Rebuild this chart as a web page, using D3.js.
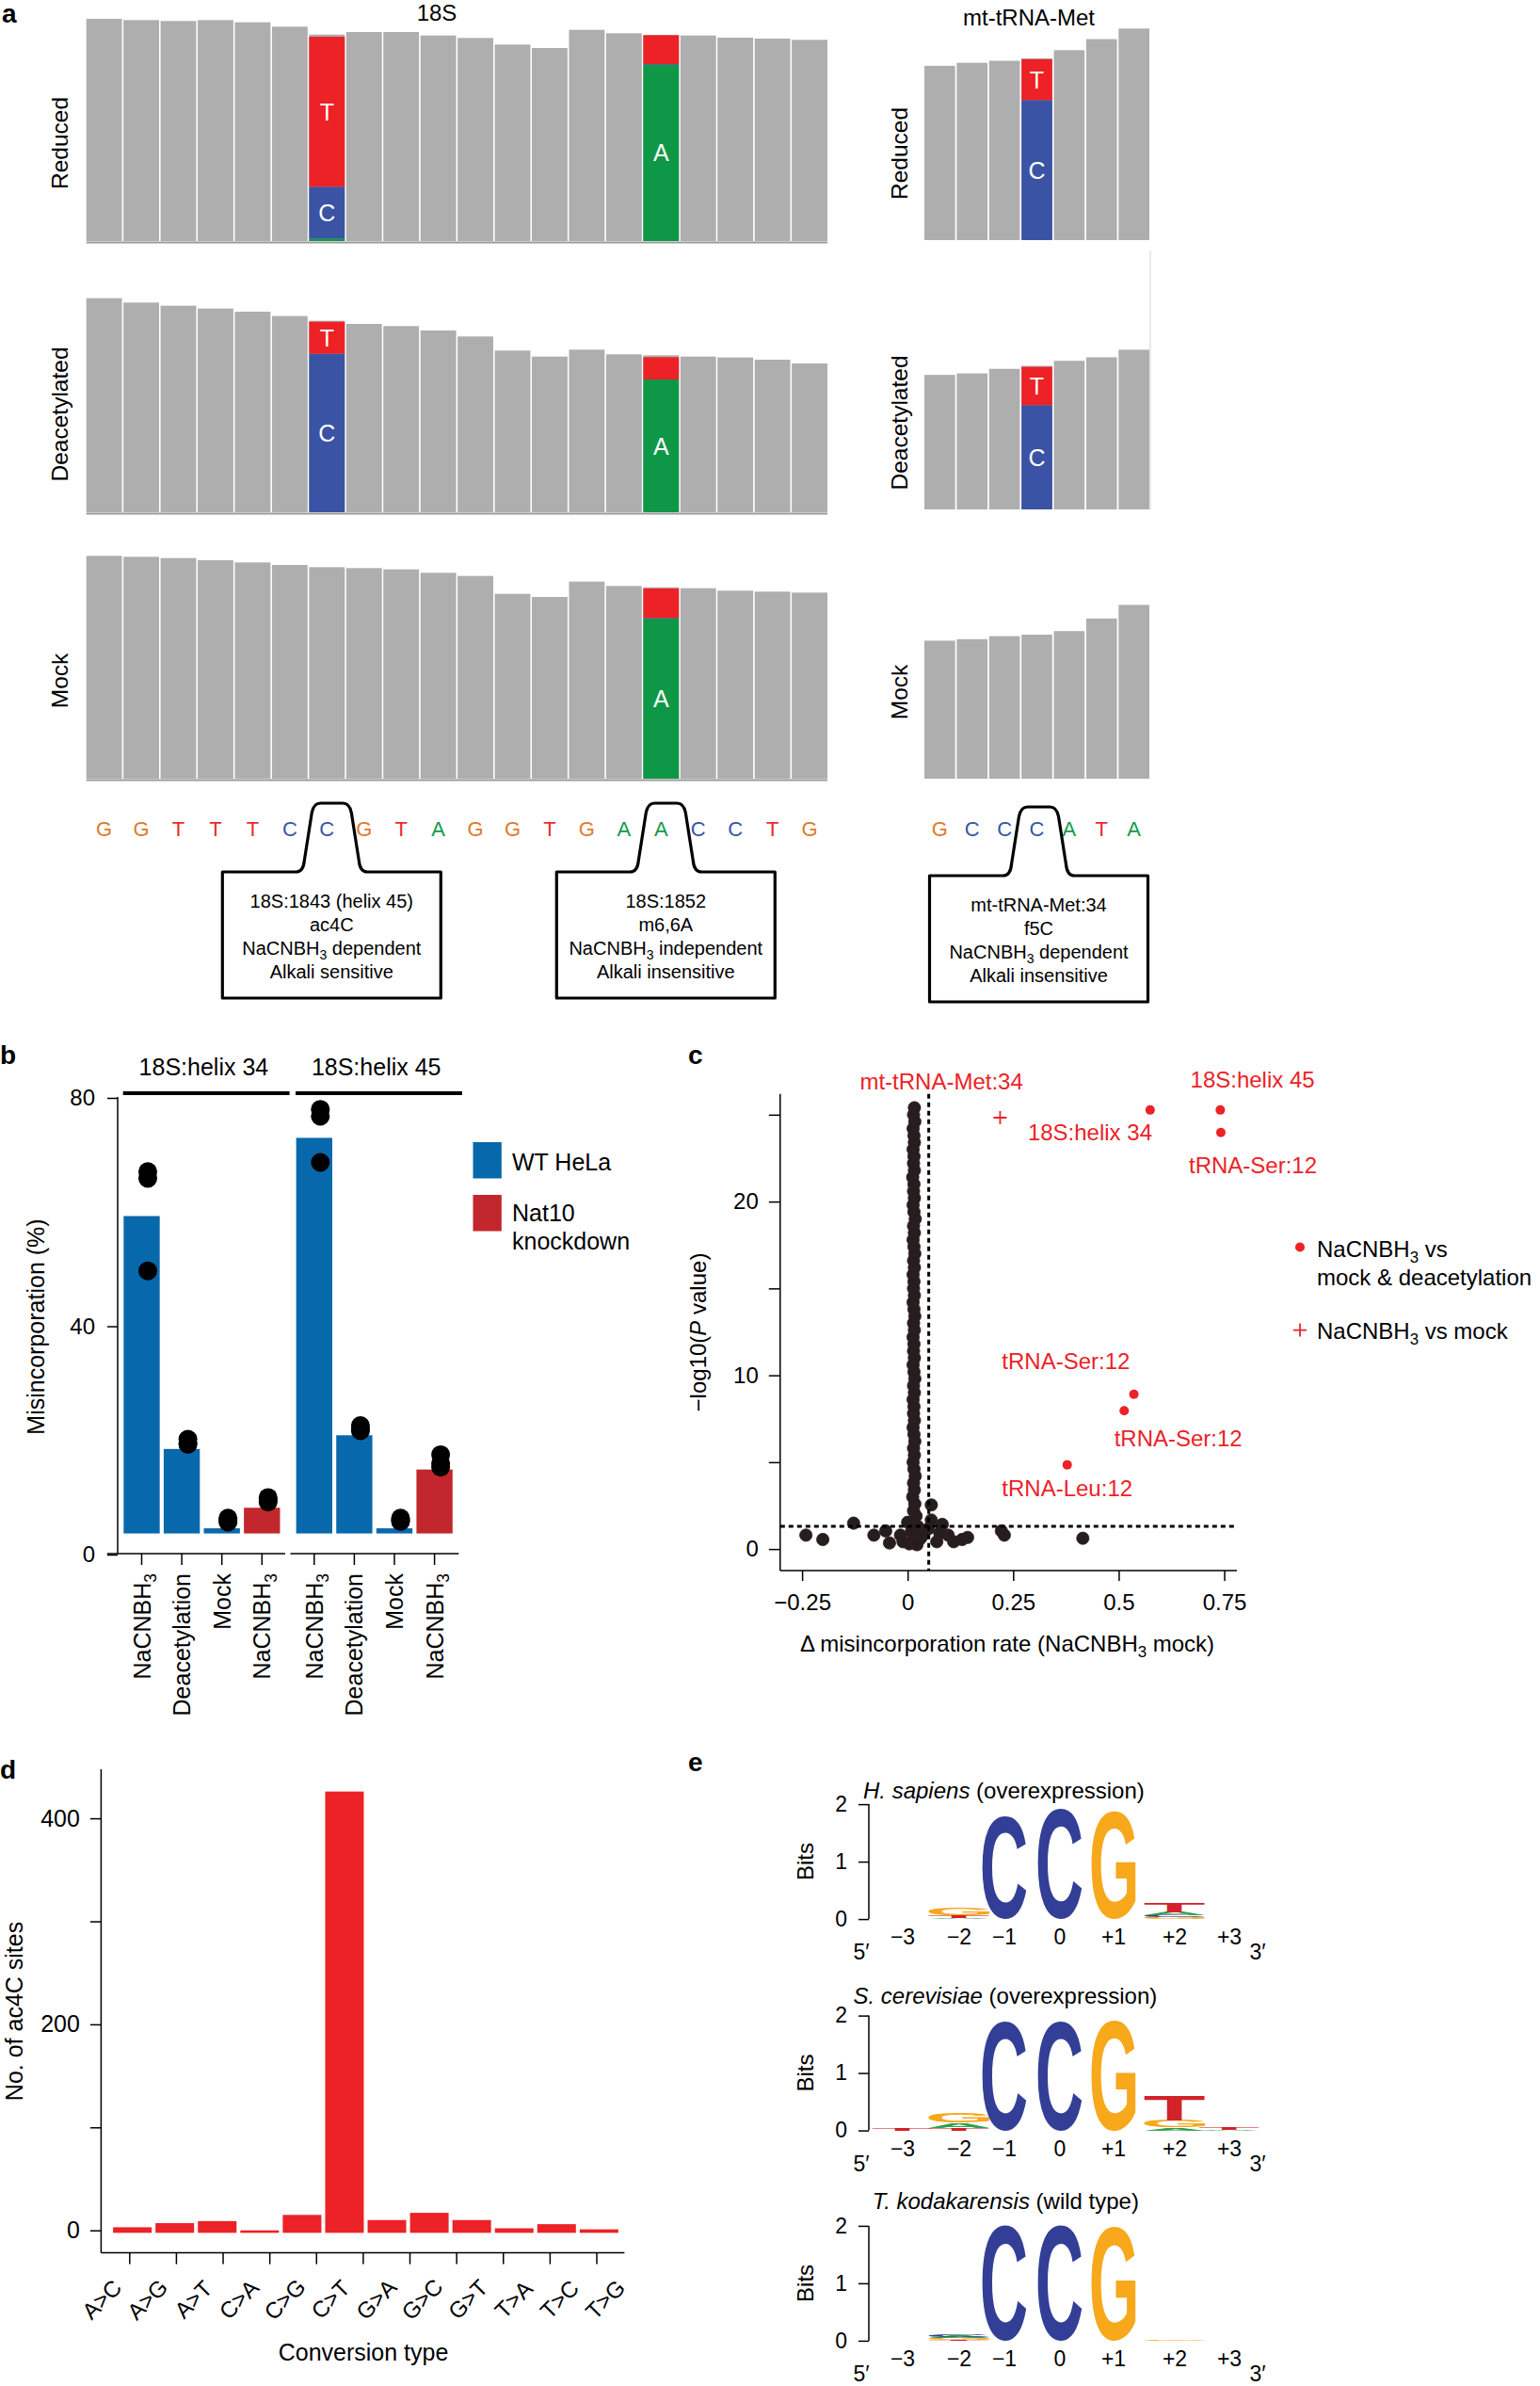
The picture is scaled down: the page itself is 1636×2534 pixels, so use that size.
<!DOCTYPE html>
<html>
<head>
<meta charset="utf-8">
<script src="https://cdn.jsdelivr.net/npm/d3@7"></script>
<style>
body { margin: 0; background: #fff; }
svg { display: block; font-family: "Liberation Sans", Arial, Helvetica, sans-serif; }
</style>
</head>
<body>
<svg id="fig" width="1636" height="2534"></svg>
<script>
// ---------------- data ----------------
// a: coverage tracks (read depth, arbitrary units) and reference sequence
var seq18S = ["G","G","T","T","T","C","C","G","T","A","G","G","T","G","A","A","C","C","T","G"];
var seqMt = ["G","C","C","C","A","T","A"];
var trackNames = ["Reduced", "Deacetylated", "Mock"];
var cov18S_reduced = [708,704,701,704,697,683,658,666,666,655,647,626,615,673,662,656,655,648,645,641];
var cov18S_deacetylated = [682,668,658,649,639,625,610,600,593,579,560,515,496,518,503,500,496,493,486,474];
var cov18S_mock = [710,707,703,696,689,681,674,671,667,656,646,589,579,628,614,610,607,599,596,593];
var covMt_reduced = [346,352,356,361,377,399,420];
var covMt_deacetylated = [267,270,279,285,295,302,317];
var covMt_mock = [274,277,283,286,293,318,345];
// base calls at mismatch positions (track index, position, reads per base)
var mismatch18S = [
  {track:0, pos:6, A:8, C:165, G:0, T:478},
  {track:0, pos:15, A:562, C:2, G:0, T:92},
  {track:1, pos:6, A:0, C:505, G:0, T:102},
  {track:1, pos:15, A:423, C:0, G:0, T:71},
  {track:2, pos:15, A:510, C:2, G:0, T:94}
];
var mismatchMt = [
  {track:0, pos:3, A:0, C:278, G:0, T:81},
  {track:1, pos:3, A:0, C:207, G:0, T:76}
];
var calloutSites = [{seq:"18S", pos:6}, {seq:"18S", pos:15}, {seq:"mt", pos:3}];
var calloutText = [
  ["18S:1843 (helix 45)", "ac4C", "NaCNBH3 dependent", "Alkali sensitive"],
  ["18S:1852", "m6,6A", "NaCNBH3 independent", "Alkali insensitive"],
  ["mt-tRNA-Met:34", "f5C", "NaCNBH3 dependent", "Alkali insensitive"]
];

// b: misincorporation (%)
var bGroups = ["18S:helix 34", "18S:helix 45"];
var bTreatments = ["NaCNBH3", "Deacetylation", "Mock", "NaCNBH3"];
var bCells = ["WT HeLa", "WT HeLa", "WT HeLa", "Nat10 knockdown"];
var bMeans = [[59.3, 18.5, 4.6, 8.2], [73.0, 20.9, 4.6, 14.9]];
var bReplicates = [
  [[67.1, 65.9, 49.7], [20.2, 19.3, 19.5], [6.0, 6.4, 5.7], [10.0, 9.2, 9.6]],
  [[78.0, 76.8, 68.7], [22.6, 21.7, 22.1], [6.0, 6.4, 5.8], [17.5, 15.3, 15.9]]
];

// c: volcano plot [delta misincorporation, -log10 P]
var cBackground = [
  [0.016,25.4],[0.014,25.0],[0.017,24.6],[0.013,24.2],[0.015,23.8],[0.016,23.4],[0.013,23.0],[0.015,22.6],
  [0.014,22.2],[0.016,21.8],[0.012,21.4],[0.015,21.0],[0.014,20.6],[0.016,20.2],[0.013,19.8],[0.015,19.4],
  [0.018,19.0],[0.014,18.6],[0.016,18.2],[0.013,17.8],[0.015,17.4],[0.017,17.0],[0.014,16.6],[0.016,16.2],
  [0.013,15.8],[0.015,15.4],[0.014,15.0],[0.016,14.6],[0.013,14.2],[0.015,13.8],[0.017,13.4],[0.014,13.0],
  [0.016,12.6],[0.013,12.2],[0.015,11.8],[0.014,11.4],[0.016,11.0],[0.013,10.6],[0.015,10.2],[0.017,9.8],
  [0.014,9.4],[0.016,9.0],[0.013,8.6],[0.015,8.2],[0.014,7.8],[0.016,7.4],[0.013,7.0],[0.015,6.6],
  [0.017,6.2],[0.014,5.8],[0.016,5.4],[0.013,5.0],[0.015,4.6],[0.018,4.2],[0.014,3.8],[0.016,3.4],
  [0.012,3.0],[0.017,2.6],[0.014,2.2],[0.020,1.9],[0.011,1.6],[0.024,1.3],[0.009,1.0],[0.014,0.6],
  [0.030,0.6],[0.004,0.3],[0.022,0.25],
  [-0.241,0.80],[-0.201,0.55],[-0.128,1.49],[-0.080,0.80],[-0.052,1.04],[-0.043,0.35],[-0.011,0.42],
  [0.000,1.54],[0.056,2.54],[0.056,1.67],[0.082,1.42],[0.096,0.80],[0.109,0.42],[0.129,0.55],[0.142,0.67],
  [0.222,1.04],[0.229,0.80],[0.415,0.62],[0.036,0.80],[0.023,0.42],[0.069,0.42],[0.049,1.17],[0.076,0.92],
  [0.016,1.04],[-0.017,0.80]
];
var cBoth = [[0.5745,25.27],[0.7407,25.27],[0.742,23.98],[0.536,8.91],[0.513,7.96],[0.378,4.85]];
var cMockOnly = [[0.219,24.83]];
var cLabels = [
  {t:"mt-tRNA-Met:34", x:0.080, y:26.9},
  {t:"18S:helix 45", x:0.817, y:27.0},
  {t:"18S:helix 34", x:0.432, y:24.0},
  {t:"tRNA-Ser:12", x:0.818, y:22.1},
  {t:"tRNA-Ser:12", x:0.375, y:10.8},
  {t:"tRNA-Ser:12", x:0.641, y:6.36},
  {t:"tRNA-Leu:12", x:0.378, y:3.52}
];
var cDeltaCut = 0.05, cPCut = 1.301;

// d: conversion types of ac4C sites
var dTypes = ["A>C","A>G","A>T","C>A","C>G","C>T","G>A","G>C","G>T","T>A","T>C","T>G"];
var dCounts = [3, 7, 9, 0, 15, 426, 10, 17, 10, 2, 6, 1];

// e: sequence logos (bits per base, bottom to top)
var logoPositions = [-3, -2, -1, 0, 1, 2, 3];
var logoPosLabels = ["\u22123", "\u22122", "\u22121", "0", "+1", "+2", "+3"];
var logoTitles = [["H. sapiens", " (overexpression)"], ["S. cerevisiae", " (overexpression)"], ["T. kodakarensis", " (wild type)"]];
var logoHsapiens = [[], [["A",0.02],["T",0.05],["G",0.12]], [["C",1.80]], [["C",1.93]], [["G",1.87]], [["G",0.03],["C",0.03],["A",0.06],["T",0.17]], []];
var logoScerevisiae = [[["T",0.03]], [["T",0.05],["A",0.09],["G",0.17]], [["C",1.91]], [["C",1.91]], [["G",1.93]], [["A",0.05],["G",0.12],["T",0.42]], [["A",0.01],["T",0.04]]];
var logoTkodakarensis = [[], [["T",0.01],["G",0.03],["A",0.03],["C",0.05]], [["C",2.0]], [["C",2.0]], [["G",1.98]], [["G",0.01]], []];

// ---------------- helpers ----------------
var FONT = '"Liberation Sans", Arial, Helvetica, sans-serif';
var svg = d3.select("#fig");
svg.append("rect").attr("width", 1636).attr("height", 2534).attr("fill", "#fff");

var barColor = {A:"#0f9748", C:"#3a53a4", G:"#f5a623", T:"#ec2227"};
var seqColor = {A:"#129a4a", C:"#3a55a6", G:"#e07a2c", T:"#ec2a2c"};
var logoColor = {A:"#2ca14a", C:"#333f96", G:"#f7a81b", T:"#d2222a"};

// writes a string, turning "NaCNBH3" into NaCNBH with a subscript 3
function richText(sel, str, fs) {
  var parts = str.split("NaCNBH3");
  parts.forEach(function(p, i) {
    if (i > 0) {
      sel.append("tspan").text("NaCNBH");
      sel.append("tspan").attr("font-size", fs * 0.7).attr("dy", fs * 0.25).text("3");
      if (p.length) sel.append("tspan").attr("dy", -fs * 0.25).text(p);
    } else if (p.length) {
      sel.append("tspan").text(p);
    }
  });
}

function panelLabel(t, x, y) {
  svg.append("text").attr("x", x).attr("y", y).attr("font-size", 28)
    .attr("font-weight", "bold").text(t);
}

function styleAxis(g, fs) {
  g.select(".domain").remove();
  g.attr("font-family", FONT).attr("font-size", fs);
  g.selectAll(".tick line").attr("stroke", "#000").attr("stroke-width", 1.5);
  g.selectAll(".tick text").attr("fill", "#000");
  g.selectAll(".tick text").filter(function() { return this.textContent === ""; }).remove();
}

// ---------------- panel a ----------------
panelLabel("a", 2, 24);
var base18 = [256, 544, 827], baseMt = [255, 541, 827];
var x18 = d3.scaleBand().domain(d3.range(seq18S.length)).range([91.7, 879]).paddingInner(0.04);
var xMt = d3.scaleBand().domain(d3.range(seqMt.length)).range([982, 1221]).paddingInner(0.05);
var h18 = d3.scaleLinear().domain([0, 720]).range([0, 240]);
var hMt = d3.scaleLinear().domain([0, 420]).range([0, 224.7]);
var cov18S = [cov18S_reduced, cov18S_deacetylated, cov18S_mock];
var covMt = [covMt_reduced, covMt_deacetylated, covMt_mock];

function drawTrack(cov, mm, x, h, base) {
  var g = svg.append("g");
  g.selectAll("rect").data(cov).enter().append("rect")
    .attr("x", function(d, i) { return x(i); })
    .attr("width", x.bandwidth())
    .attr("y", function(d) { return base - h(d); })
    .attr("height", function(d) { return h(d); })
    .attr("fill", "#aeaeae");
  mm.forEach(function(m) {
    var cum = 0;
    ["A", "C", "G", "T"].forEach(function(b) {
      if (!m[b]) return;
      var y1 = base - h(cum), y2 = base - h(cum + m[b]);
      g.append("rect").attr("x", x(m.pos)).attr("width", x.bandwidth())
        .attr("y", y2).attr("height", y1 - y2).attr("fill", barColor[b]);
      if (y1 - y2 > 33) {
        g.append("text").attr("x", x(m.pos) + x.bandwidth() / 2).attr("y", (y1 + y2) / 2 + 9)
          .attr("text-anchor", "middle").attr("font-size", 25).attr("fill", "#fff").text(b);
      }
      cum += m[b];
    });
  });
}

trackNames.forEach(function(name, k) {
  drawTrack(cov18S[k], mismatch18S.filter(function(m) { return m.track === k; }), x18, h18, base18[k]);
  svg.append("line").attr("x1", 91.7).attr("x2", 879).attr("y1", base18[k] + 1.5).attr("y2", base18[k] + 1.5)
    .attr("stroke", "#9a9a9a").attr("stroke-width", 2);
  drawTrack(covMt[k], mismatchMt.filter(function(m) { return m.track === k; }), xMt, hMt, baseMt[k]);
  var mid18 = base18[k] - 104, midMt = baseMt[k] - 92;
  svg.append("text").attr("transform", "translate(63," + mid18 + ") rotate(-90)")
    .attr("text-anchor", "middle").attr("dy", "0.35em").attr("font-size", 24.5).text(name);
  svg.append("text").attr("transform", "translate(955," + midMt + ") rotate(-90)")
    .attr("text-anchor", "middle").attr("dy", "0.35em").attr("font-size", 24.5).text(name);
});
svg.append("line").attr("x1", 1222).attr("x2", 1222).attr("y1", 266).attr("y2", 541)
  .attr("stroke", "#e2e2e2").attr("stroke-width", 1.5);
svg.append("text").attr("x", 464).attr("y", 22).attr("text-anchor", "middle").attr("font-size", 24).text("18S");
svg.append("text").attr("x", 1093).attr("y", 27).attr("text-anchor", "middle").attr("font-size", 24).text("mt-tRNA-Met");

// sequence letters
svg.append("g").selectAll("text").data(seq18S).enter().append("text")
  .attr("x", function(d, i) { return x18(i) + x18.bandwidth() / 2; }).attr("y", 888)
  .attr("text-anchor", "middle").attr("font-size", 22).attr("fill", function(d) { return seqColor[d]; })
  .text(function(d) { return d; });
svg.append("g").selectAll("text").data(seqMt).enter().append("text")
  .attr("x", function(d, i) { return xMt(i) + xMt.bandwidth() / 2; }).attr("y", 888)
  .attr("text-anchor", "middle").attr("font-size", 22).attr("fill", function(d) { return seqColor[d]; })
  .text(function(d) { return d; });

// callout boxes
function calloutPath(cx, top, bottom, halfW) {
  var bt = top - 73;
  return "M" + (cx - halfW) + "," + top + " H" + (cx - 38) +
    " Q" + (cx - 30) + "," + top + " " + (cx - 29) + "," + (top - 12) +
    " L" + (cx - 21) + "," + (bt + 10) +
    " Q" + (cx - 19) + "," + bt + " " + (cx - 12) + "," + bt +
    " H" + (cx + 12) +
    " Q" + (cx + 19) + "," + bt + " " + (cx + 21) + "," + (bt + 10) +
    " L" + (cx + 29) + "," + (top - 12) +
    " Q" + (cx + 30) + "," + top + " " + (cx + 38) + "," + top +
    " H" + (cx + halfW) + " V" + bottom + " H" + (cx - halfW) + " Z";
}
calloutSites.forEach(function(s, i) {
  var cx = s.seq === "18S" ? x18(s.pos) + x18.bandwidth() / 2 + 5 : xMt(s.pos) + xMt.bandwidth() / 2 + 2;
  var top = s.seq === "18S" ? 926 : 930;
  svg.append("path").attr("d", calloutPath(cx, top, top + 134, 116))
    .attr("fill", "none").attr("stroke", "#000").attr("stroke-width", 3.2).attr("stroke-linejoin", "round");
  calloutText[i].forEach(function(line, j) {
    var t = svg.append("text").attr("x", cx).attr("y", top + 38 + j * 25)
      .attr("text-anchor", "middle").attr("font-size", 20);
    richText(t, line, 20);
  });
});

// ---------------- panel b ----------------
panelLabel("b", 0, 1130);
var yB = d3.scaleLinear().domain([0, 80]).range([1651, 1166]);
var facetRange = [[129.2, 299.6], [312.5, 482.9]];
var bBarBase = 3.7;
var cellColor = {"WT HeLa": "#0868ac", "Nat10 knockdown": "#c1272d"};

bGroups.forEach(function(grp, gi) {
  var xb = d3.scaleBand().domain(d3.range(bTreatments.length)).range(facetRange[gi])
    .paddingInner(0.1).paddingOuter(0.05);
  var g = svg.append("g");
  g.selectAll("rect").data(bMeans[gi]).enter().append("rect")
    .attr("x", function(d, i) { return xb(i); }).attr("width", xb.bandwidth())
    .attr("y", function(d) { return yB(d); })
    .attr("height", function(d) { return yB(bBarBase) - yB(d); })
    .attr("fill", function(d, i) { return cellColor[bCells[i]]; });
  bReplicates[gi].forEach(function(reps, i) {
    g.selectAll(null).data(reps).enter().append("circle")
      .attr("cx", xb(i) + xb.bandwidth() / 2 + 6.5).attr("cy", function(d) { return yB(d); })
      .attr("r", 10).attr("fill", "#000");
  });
  // facet strip
  var r = facetRange[gi];
  svg.append("text").attr("x", (r[0] + r[1]) / 2 + 2).attr("y", 1142).attr("text-anchor", "middle")
    .attr("font-size", 25).text(grp);
  svg.append("line").attr("x1", r[0] + 1.5).attr("x2", r[1] + 8).attr("y1", 1161).attr("y2", 1161)
    .attr("stroke", "#000").attr("stroke-width", 4);
  // x axis
  svg.append("line").attr("x1", gi === 0 ? 113.7 : 308.5).attr("x2", gi === 0 ? 303 : 487.3)
    .attr("y1", 1650).attr("y2", 1650).attr("stroke", "#000").attr("stroke-width", 1.5);
  var ax = svg.append("g").attr("transform", "translate(0,1650)")
    .call(d3.axisBottom(xb).tickSize(12).tickFormat(""));
  styleAxis(ax, 25);
  bTreatments.forEach(function(t, i) {
    var lab = svg.append("text")
      .attr("transform", "translate(" + (xb(i) + xb.bandwidth() / 2) + ",1671) rotate(-90)")
      .attr("text-anchor", "end").attr("dy", "0.36em").attr("font-size", 25);
    richText(lab, t, 25);
  });
});
var ayB = svg.append("g").attr("transform", "translate(125,0)")
  .call(d3.axisLeft(yB).tickValues([0, 40, 80]).tickSize(11).tickPadding(13));
styleAxis(ayB, 24);
svg.append("line").attr("x1", 125).attr("x2", 125).attr("y1", 1165).attr("y2", 1650)
  .attr("stroke", "#000").attr("stroke-width", 1.5);
svg.append("text").attr("transform", "translate(38,1409) rotate(-90)").attr("text-anchor", "middle")
  .attr("dy", "0.35em").attr("font-size", 25).text("Misincorporation (%)");
// legend
var bLegend = ["WT HeLa", "Nat10 knockdown"];
bLegend.forEach(function(c, i) {
  var y0 = i === 0 ? 1213 : 1269;
  svg.append("rect").attr("x", 502.5).attr("y", y0).attr("width", 30.3).attr("height", 38.5).attr("fill", cellColor[c]);
});
svg.append("text").attr("x", 544).attr("y", 1243).attr("font-size", 25).text("WT HeLa");
svg.append("text").attr("x", 544).attr("y", 1297).attr("font-size", 25).text("Nat10");
svg.append("text").attr("x", 544).attr("y", 1327).attr("font-size", 25).text("knockdown");

// ---------------- panel c ----------------
panelLabel("c", 731, 1130);
var xC = d3.scaleLinear().domain([-0.302, 0.780]).range([828.8, 1314]);
var yC = d3.scaleLinear().domain([-1.24, 26.2]).range([1668, 1161.7]);
svg.append("g").selectAll("circle").data(cBackground).enter().append("circle")
  .attr("cx", function(d) { return xC(d[0]); }).attr("cy", function(d) { return yC(d[1]); })
  .attr("r", 6.6).attr("fill", "#251e1f").attr("stroke", "#3a1a1c").attr("stroke-width", 0.8);
svg.append("g").selectAll("circle").data(cBoth).enter().append("circle")
  .attr("cx", function(d) { return xC(d[0]); }).attr("cy", function(d) { return yC(d[1]); })
  .attr("r", 5).attr("fill", "#ec2227");
svg.append("g").selectAll("path").data(cMockOnly).enter().append("path")
  .attr("d", function(d) {
    var x = xC(d[0]), y = yC(d[1]);
    return "M" + (x - 7) + "," + y + "H" + (x + 7) + "M" + x + "," + (y - 7) + "V" + (y + 7);
  })
  .attr("stroke", "#ec2227").attr("stroke-width", 1.8);
svg.append("line").attr("x1", xC(cDeltaCut)).attr("x2", xC(cDeltaCut)).attr("y1", 1161.7).attr("y2", 1668)
  .attr("stroke", "#000").attr("stroke-width", 3).attr("stroke-dasharray", "5,4");
svg.append("line").attr("x1", 828.8).attr("x2", 1314).attr("y1", yC(cPCut)).attr("y2", yC(cPCut))
  .attr("stroke", "#000").attr("stroke-width", 3).attr("stroke-dasharray", "5,4");
svg.append("g").selectAll("text").data(cLabels).enter().append("text")
  .attr("x", function(d) { return xC(d.x); }).attr("y", function(d) { return yC(d.y) + 8.5; })
  .attr("text-anchor", "middle").attr("font-size", 24).attr("fill", "#ec2227")
  .text(function(d) { return d.t; });
// axes
svg.append("line").attr("x1", 828.8).attr("x2", 828.8).attr("y1", 1161.7).attr("y2", 1668)
  .attr("stroke", "#000").attr("stroke-width", 1.5);
svg.append("line").attr("x1", 828.8).attr("x2", 1314).attr("y1", 1668).attr("y2", 1668)
  .attr("stroke", "#000").attr("stroke-width", 1.5);
var ayC = svg.append("g").attr("transform", "translate(828.8,0)")
  .call(d3.axisLeft(yC).tickValues([0, 5, 10, 15, 20, 25]).tickSize(12).tickPadding(11)
    .tickFormat(function(d) { return d % 10 === 0 ? d : ""; }));
styleAxis(ayC, 24);
var axC = svg.append("g").attr("transform", "translate(0,1668)")
  .call(d3.axisBottom(xC).tickValues([-0.25, 0, 0.25, 0.5, 0.75]).tickSize(11).tickPadding(14)
    .tickFormat(function(d) { return d < 0 ? "\u2212" + Math.abs(d) : String(d); }));
styleAxis(axC, 24);
var ylC = svg.append("text").attr("transform", "translate(742,1415) rotate(-90)").attr("text-anchor", "middle")
  .attr("dy", "0.35em").attr("font-size", 24);
ylC.append("tspan").text("\u2212log10(");
ylC.append("tspan").attr("font-style", "italic").text("P");
ylC.append("tspan").text(" value)");
var xlC = svg.append("text").attr("x", 1070).attr("y", 1754).attr("text-anchor", "middle").attr("font-size", 24);
richText(xlC, "\u0394 misincorporation rate (NaCNBH3 mock)", 24);
// legend
svg.append("circle").attr("cx", 1381).attr("cy", 1324.5).attr("r", 5).attr("fill", "#ec2227");
var lc1 = svg.append("text").attr("x", 1399).attr("y", 1335).attr("font-size", 24);
richText(lc1, "NaCNBH3 vs", 24);
svg.append("text").attr("x", 1399).attr("y", 1365).attr("font-size", 24).text("mock & deacetylation");
svg.append("path").attr("d", "M1374,1412.6H1388M1381,1405.6V1419.6").attr("stroke", "#ec2227").attr("stroke-width", 1.8);
var lc2 = svg.append("text").attr("x", 1399).attr("y", 1422).attr("font-size", 24);
richText(lc2, "NaCNBH3 vs mock", 24);

// ---------------- panel d ----------------
panelLabel("d", 0, 1889);
var xD = d3.scaleBand().domain(dTypes).range([118.1, 658.9]).paddingInner(0.09).paddingOuter(0.045);
var yD = d3.scaleLinear().domain([0, 400]).range([2368.7, 1931.1]);
var dBarBase = -2.4;
svg.append("g").selectAll("rect").data(dCounts).enter().append("rect")
  .attr("x", function(d, i) { return xD(dTypes[i]); }).attr("width", xD.bandwidth())
  .attr("y", function(d) { return yD(d); })
  .attr("height", function(d) { return Math.max(1.5, yD(dBarBase) - yD(d)); })
  .attr("fill", "#ec2227");
svg.append("line").attr("x1", 107.4).attr("x2", 107.4).attr("y1", 1879).attr("y2", 2392.6)
  .attr("stroke", "#000").attr("stroke-width", 1.5);
svg.append("line").attr("x1", 107.4).attr("x2", 663.4).attr("y1", 2392.6).attr("y2", 2392.6)
  .attr("stroke", "#000").attr("stroke-width", 1.5);
var ayD = svg.append("g").attr("transform", "translate(107.4,0)")
  .call(d3.axisLeft(yD).tickValues([0, 100, 200, 300, 400]).tickSize(11.5).tickPadding(11)
    .tickFormat(function(d) { return d % 200 === 0 ? d : ""; }));
styleAxis(ayD, 25);
var dTickPos = d3.scaleLinear().domain([0, 10]).range([137.3, 633.5]);
var axD = svg.append("g").attr("transform", "translate(0,2392.6)")
  .call(d3.axisBottom(dTickPos).tickValues(d3.range(11)).tickSize(12).tickFormat(""));
styleAxis(axD, 25);
var dLabelPos = d3.scalePoint().domain(dTypes).range([108, 643]);
svg.append("g").selectAll("text").data(dTypes).enter().append("text")
  .attr("transform", function(d) { return "translate(" + dLabelPos(d) + ",2442) rotate(-45)"; })
  .attr("text-anchor", "middle").attr("dy", "0.35em").attr("font-size", 24)
  .text(function(d) { return d; });
svg.append("text").attr("x", 386).attr("y", 2507).attr("text-anchor", "middle").attr("font-size", 25).text("Conversion type");
svg.append("text").attr("transform", "translate(15,2136) rotate(-90)").attr("text-anchor", "middle")
  .attr("dy", "0.35em").attr("font-size", 25).text("No. of ac4C sites");

// ---------------- panel e ----------------
panelLabel("e", 731, 1881);
var measureCtx = document.createElement("canvas").getContext("2d");
measureCtx.font = "bold 100px 'Liberation Sans'";
function drawGlyph(g, ch, x0, yBottom, w, h, color) {
  if (h <= 0) return;
  var m = measureCtx.measureText(ch);
  var gw = m.actualBoundingBoxLeft + m.actualBoundingBoxRight;
  var gh = m.actualBoundingBoxAscent + m.actualBoundingBoxDescent;
  g.append("text").attr("x", m.actualBoundingBoxLeft).attr("y", -m.actualBoundingBoxDescent)
    .attr("transform", "translate(" + x0 + "," + yBottom + ") scale(" + (w / gw) + "," + (h / gh) + ")")
    .attr("font-size", 100).attr("font-weight", "bold").attr("font-family", "Liberation Sans")
    .attr("fill", color).text(ch);
}
var logos = [logoHsapiens, logoScerevisiae, logoTkodakarensis];
var logoZero = [2038.1, 2262.6, 2485.9];
var logoTitleXY = [[917, 1909.5], [906.5, 2128], [926.7, 2346]];
var logoX = d3.scaleOrdinal().domain(logoPositions).range([959, 1019, 1067, 1126, 1183, 1248, 1306]);
logos.forEach(function(cols, k) {
  var yL = d3.scaleLinear().domain([0, 2]).range([logoZero[k], logoZero[k] - 122]);
  var g = svg.append("g");
  cols.forEach(function(stack, j) {
    var cum = 0;
    stack.forEach(function(s) {
      var w = s[1] > 1 ? 47 : 65;
      drawGlyph(g, s[0], logoX(logoPositions[j]) - w / 2, yL(cum), w, yL(cum) - yL(cum + s[1]), logoColor[s[0]]);
      cum += s[1];
    });
  });
  svg.append("line").attr("x1", 923).attr("x2", 923).attr("y1", yL(2)).attr("y2", yL(0))
    .attr("stroke", "#000").attr("stroke-width", 1.5);
  var ay = svg.append("g").attr("transform", "translate(923,0)")
    .call(d3.axisLeft(yL).tickValues([0, 1, 2]).tickSize(11).tickPadding(12).tickFormat(d3.format("d")));
  styleAxis(ay, 23);
  svg.append("text").attr("transform", "translate(856," + yL(1) + ") rotate(-90)").attr("text-anchor", "middle")
    .attr("dy", "0.35em").attr("font-size", 24).text("Bits");
  svg.append("g").selectAll("text").data(logoPosLabels).enter().append("text")
    .attr("x", function(d, i) { return logoX(logoPositions[i]); })
    .attr("y", yL(0) + 27).attr("text-anchor", "middle").attr("font-size", 23)
    .text(function(d) { return d; });
  svg.append("text").attr("x", 915).attr("y", yL(0) + 43).attr("text-anchor", "middle").attr("font-size", 23).text("5\u2032");
  svg.append("text").attr("x", 1336).attr("y", yL(0) + 43).attr("text-anchor", "middle").attr("font-size", 23).text("3\u2032");
  var tt = svg.append("text").attr("x", logoTitleXY[k][0]).attr("y", logoTitleXY[k][1]).attr("font-size", 24);
  tt.append("tspan").attr("font-style", "italic").text(logoTitles[k][0]);
  tt.append("tspan").text(logoTitles[k][1]);
});
</script>
</body>
</html>
